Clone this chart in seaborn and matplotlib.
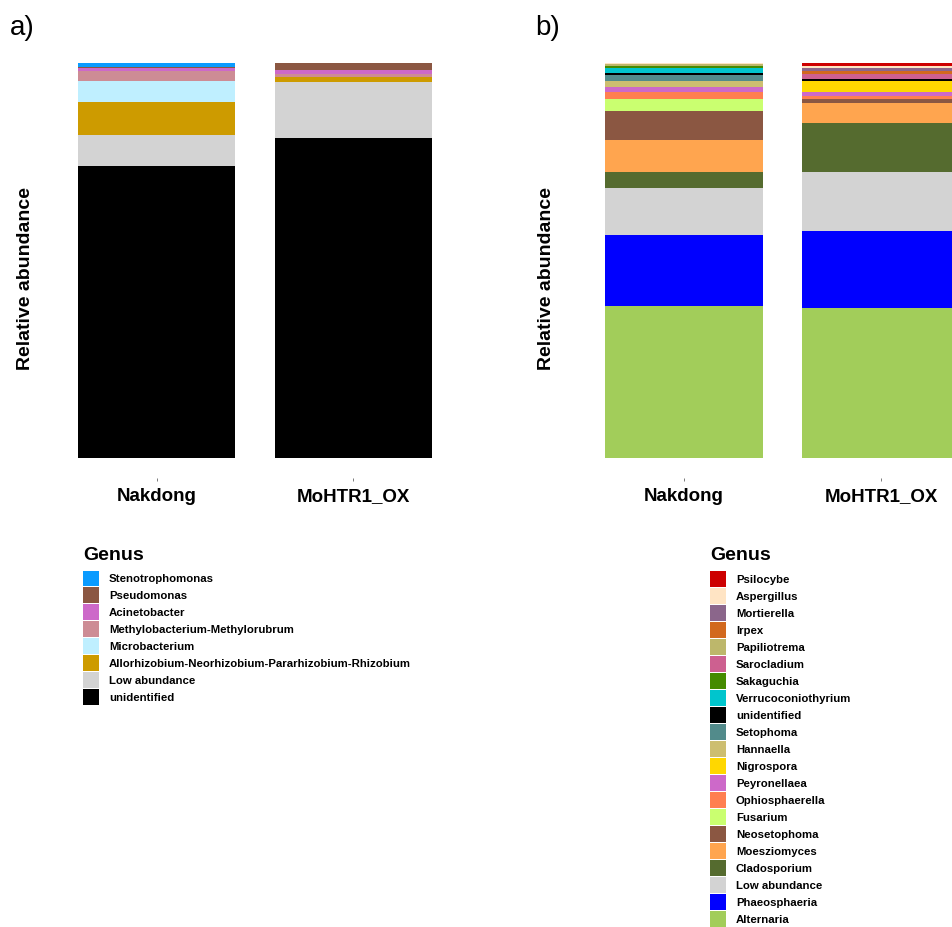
import matplotlib
matplotlib.use("Agg")
import matplotlib.pyplot as plt
from matplotlib.patches import Patch
import pandas as pd
import seaborn as sns

# ---- data -------------------------------------------------------------
samples = ["Nakdong", "MoHTR1_OX"]

# a) bacterial genera (legend order = stacking order from the top)
bact_genera = ["Stenotrophomonas", "Pseudomonas", "Acinetobacter",
               "Methylobacterium-Methylorubrum", "Microbacterium",
               "Allorhizobium-Neorhizobium-Pararhizobium-Rhizobium",
               "Low abundance", "unidentified"]
bact_colors = ["#0A9BFF", "#8B5742", "#CD69C9", "#CD8C95", "#BFEFFF",
               "#CD9B00", "#D3D3D3", "#000000"]
bact_nakdong = [0.011, 0.001, 0.008, 0.026, 0.052, 0.084, 0.078, 0.740]
bact_ox = [0.000, 0.018, 0.011, 0.007, 0.001, 0.012, 0.141, 0.810]

# b) fungal genera
fung_genera = ["Psilocybe", "Aspergillus", "Mortierella", "Irpex",
               "Papiliotrema", "Sarocladium", "Sakaguchia",
               "Verrucoconiothyrium", "unidentified", "Setophoma",
               "Hannaella", "Nigrospora", "Peyronellaea", "Ophiosphaerella",
               "Fusarium", "Neosetophoma", "Moesziomyces", "Cladosporium",
               "Low abundance", "Phaeosphaeria", "Alternaria"]
fung_colors = ["#CD0000", "#FFE4C4", "#8B668B", "#D2691E", "#BDB76B",
               "#CD6090", "#458B00", "#00C5CD", "#000000", "#528B8B",
               "#CDBE70", "#FFD700", "#CD69C9", "#FF7F50", "#CAFF70",
               "#8B5742", "#FFA54F", "#556B2F", "#D3D3D3", "#0000FF",
               "#A2CD5A"]
fung_nakdong = [0.000, 0.002, 0.000, 0.000, 0.007, 0.000, 0.004, 0.013,
                0.006, 0.014, 0.015, 0.000, 0.012, 0.018, 0.032, 0.072,
                0.080, 0.041, 0.120, 0.178, 0.386]
fung_ox = [0.007, 0.005, 0.008, 0.008, 0.000, 0.013, 0.000, 0.000,
           0.004, 0.000, 0.000, 0.029, 0.009, 0.008, 0.000, 0.011,
           0.050, 0.124, 0.149, 0.194, 0.381]


def long_table(genera, per_sample):
    rows = []
    for sample, values in zip(samples, per_sample):
        for g, v in zip(genera, values):
            rows.append({"Sample": sample, "Genus": g, "Abundance": v})
    df = pd.DataFrame(rows)
    df["Sample"] = pd.Categorical(df["Sample"], categories=samples, ordered=True)
    return df


sns.set_style("white")
plt.rcParams["font.family"] = ["Liberation Sans", "DejaVu Sans"]
plt.rcParams["text.color"] = "black"

W, H = 952, 927
fig = plt.figure(figsize=(W / 100, H / 100), dpi=100)


def px_axes(left, top, right, bottom):
    return fig.add_axes([left / W, 1 - bottom / H, (right - left) / W, (bottom - top) / H])


def stacked_panel(ax, genera, colors, per_sample):
    df = long_table(genera, per_sample)
    df["x"] = df["Sample"].cat.codes
    sns.histplot(data=df, x="x", hue="Genus", weights="Abundance",
                 hue_order=genera, palette=dict(zip(genera, colors)),
                 multiple="stack", discrete=True, shrink=0.8,
                 alpha=1, linewidth=0, edgecolor="none",
                 legend=False, ax=ax)
    ax.set_xlim(-0.6, 1.6)
    ax.set_ylim(-0.05, 1.05)
    ax.set_xticks(range(len(samples)))
    ax.set_xticklabels(samples, fontsize=13.5, fontweight="bold", color="black")
    ax.set_yticks([])
    ax.set_xlabel("")
    ax.set_ylabel("Relative abundance", fontsize=14, fontweight="bold", color="black")
    ax.tick_params(axis="x", bottom=True, direction="out", length=2.5,
                   width=0.6, color="#666666", pad=5)
    for s in ax.spines.values():
        s.set_visible(False)
    ax.patch.set_alpha(0)


def genus_legend(genera, colors, x_key, y_top, title_x, title_base):
    handles = [Patch(facecolor=c, edgecolor="none", label=g) for g, c in zip(genera, colors)]
    fig.legend(handles=handles, loc="upper left",
               bbox_to_anchor=(x_key / W, 1 - y_top / H),
               frameon=False, borderpad=0, borderaxespad=0,
               handlelength=1.38, handleheight=1.68, handletextpad=0.9,
               labelspacing=0.155, prop={"size": 8.2, "weight": "bold"})
    fig.text(title_x / W, 1 - title_base / H, "Genus", fontsize=14,
             fontweight="bold", va="baseline", ha="left", color="black")


# a) bacteria
ax_a = px_axes(39, 43, 471, 478)
stacked_panel(ax_a, bact_genera, bact_colors, [bact_nakdong, bact_ox])
ax_a.yaxis.set_label_coords((34 - 39) / 432, (478 - 278) / 435)
genus_legend(bact_genera, bact_colors, 83, 570.5, 83, 560)
fig.text(10 / W, 1 - 35 / H, "a)", fontsize=20, va="baseline", ha="left", color="black")

# b) fungi
ax_b = px_axes(565.8, 43, 999.2, 478)
stacked_panel(ax_b, fung_genera, fung_colors, [fung_nakdong, fung_ox])
ax_b.yaxis.set_label_coords((555 - 565.8) / 433.4, (478 - 278) / 435)
genus_legend(fung_genera, fung_colors, 710, 571.5, 710, 560.5)
fig.text(535 / W, 1 - 35 / H, "b)", fontsize=20, va="baseline", ha="left", color="black")

fig.savefig("out.png", dpi=100)
